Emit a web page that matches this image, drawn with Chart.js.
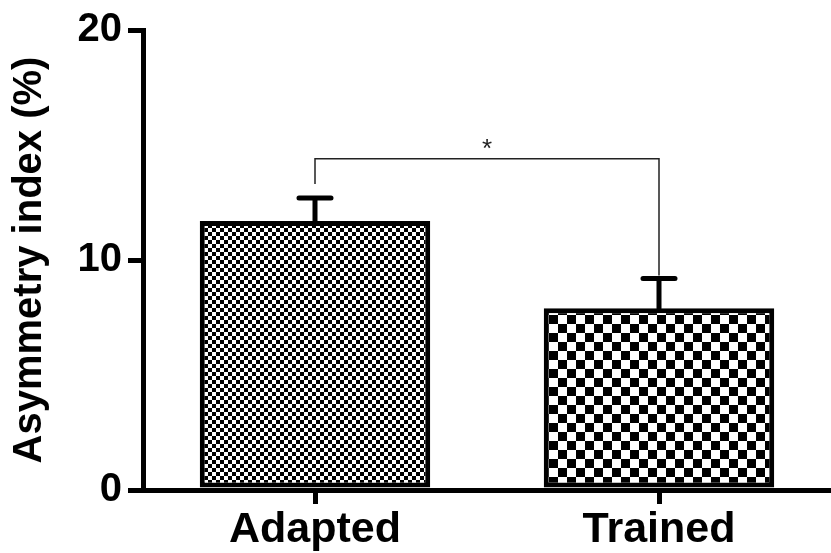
<!DOCTYPE html>
<html>
<head>
<meta charset="utf-8">
<script src="https://cdn.jsdelivr.net/npm/chart.js@4/dist/chart.umd.min.js"></script>
<style>
  html, body { margin: 0; padding: 0; background: #fff; }
  #wrap { width: 831px; height: 553px; }
</style>
</head>
<body>
<div id="wrap"><canvas id="chart" width="831" height="553"></canvas></div>
<script>
// data
const groups = ['Adapted', 'Trained'];
const means = [11.7, 7.9];
const sems = [1.0, 1.3];
const yTicks = [0, 10, 20];
const sigLabel = '*';
const sigLevel = 14.4;
const sigLeftEnd = 13.3;

const FONT = "'Liberation Sans', Arial, sans-serif";

// checkerboard fill, cell = size of one square in px
function checker(cell) {
  const c = document.createElement('canvas');
  c.width = c.height = cell * 2;
  const g = c.getContext('2d');
  g.fillStyle = '#fff';
  g.fillRect(0, 0, cell * 2, cell * 2);
  g.fillStyle = '#000';
  g.fillRect(0, 0, cell, cell);
  g.fillRect(cell, cell, cell, cell);
  return g.createPattern(c, 'repeat');
}

const errorBars = {
  id: 'errorBars',
  afterDatasetsDraw(chart) {
    const { ctx, scales: { x, y } } = chart;
    ctx.save();
    ctx.strokeStyle = '#000';
    ctx.lineWidth = 5;
    ctx.lineCap = 'round';
    means.forEach((m, i) => {
      const cx = x.getPixelForValue(i);
      const y0 = y.getPixelForValue(m);
      const y1 = y.getPixelForValue(m + sems[i]);
      ctx.beginPath();
      ctx.moveTo(cx, y0);
      ctx.lineTo(cx, y1);
      ctx.moveTo(cx - 16, y1);
      ctx.lineTo(cx + 16, y1);
      ctx.stroke();
    });
    ctx.restore();
  }
};

const sigBracket = {
  id: 'sigBracket',
  afterDatasetsDraw(chart) {
    const { ctx, scales: { x, y } } = chart;
    const xl = x.getPixelForValue(0), xr = x.getPixelForValue(1);
    const yt = y.getPixelForValue(sigLevel);
    ctx.save();
    ctx.strokeStyle = '#222';
    ctx.lineWidth = 1.5;
    ctx.beginPath();
    ctx.moveTo(xl, y.getPixelForValue(sigLeftEnd));
    ctx.lineTo(xl, yt);
    ctx.lineTo(xr, yt);
    ctx.lineTo(xr, y.getPixelForValue(means[1] + sems[1]) - 3);
    ctx.stroke();
    ctx.fillStyle = '#222';
    ctx.font = '26px ' + FONT;
    ctx.textAlign = 'center';
    ctx.textBaseline = 'alphabetic';
    ctx.fillText(sigLabel, (xl + xr) / 2, yt - 2);
    ctx.restore();
  }
};

new Chart(document.getElementById('chart'), {
  type: 'bar',
  data: {
    labels: groups,
    datasets: [{
      data: means,
      backgroundColor: [checker(4), checker(9)],
      borderColor: '#000',
      borderWidth: 5,
      borderSkipped: false,
      barPercentage: 0.67,
      categoryPercentage: 1
    }]
  },
  options: {
    responsive: false,
    animation: false,
    layout: { padding: { top: 28, right: 0, left: 0, bottom: 0 } },
    plugins: {
      legend: { display: false },
      tooltip: { enabled: false }
    },
    scales: {
      x: {
        afterFit: s => { s.height = 63; },
        border: { color: '#000', width: 5 },
        grid: {
          offset: false,
          drawOnChartArea: false,
          color: '#000',
          tickLength: 14,
          lineWidth: 5
        },
        ticks: {
          color: '#000',
          padding: 0,
          font: { family: FONT, size: 43, weight: 'bold' }
        }
      },
      y: {
        min: 0,
        max: 20,
        afterFit: s => { s.width = 143; },
        afterBuildTicks: s => { s.ticks = yTicks.map(v => ({ value: v })); },
        border: { color: '#000', width: 5 },
        grid: {
          drawOnChartArea: false,
          color: '#000',
          tickLength: 15,
          lineWidth: 5
        },
        ticks: {
          color: '#000',
          padding: 6,
          font: { family: FONT, size: 40, weight: 'bold' }
        },
        title: {
          display: true,
          text: 'Asymmetry index (%)',
          color: '#000',
          padding: { top: 6, bottom: 0 },
          font: { family: FONT, size: 40, weight: 'bold' }
        }
      }
    }
  },
  plugins: [errorBars, sigBracket]
});
</script>
</body>
</html>
